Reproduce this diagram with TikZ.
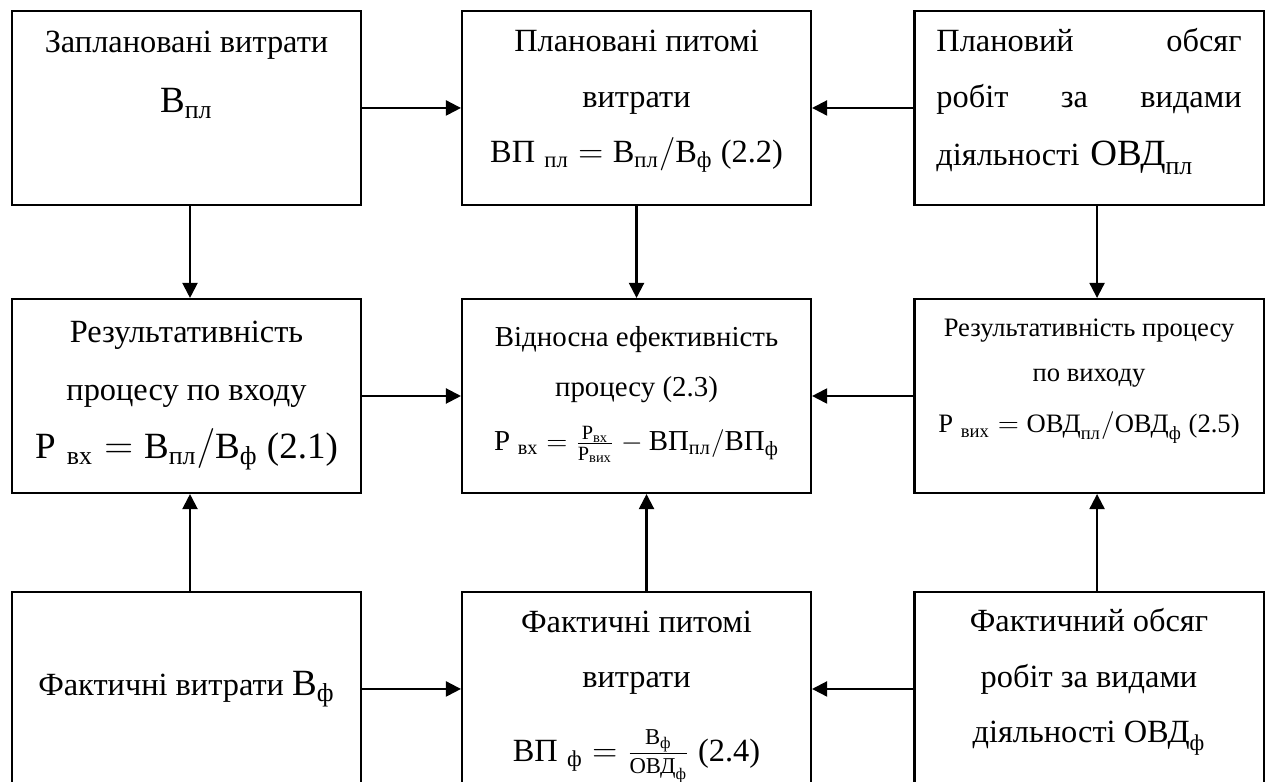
\documentclass[tikz,border=0pt]{standalone}
\usepackage{amsmath}
\usepackage{fontspec}
\setmainfont{Liberation Serif}
\usetikzlibrary{arrows.meta}

\begin{document}
\begin{tikzpicture}
    % Box and arrow styles
    \tikzset{
        blk/.style={draw, line width=0.9pt, minimum width=5.305cm, minimum height=2.949cm,
            inner sep=0pt, align=center, font=\fontsize{14}{24}\selectfont},
        topblk/.style={blk, text depth=0pt, text height=#1},
        arr/.style={line width=0.9pt, -{Triangle[length=6.5pt, width=6.5pt]}}
    }
    \useasboundingbox (0,0) rectangle (19.258,11.886);

    % Top row: planned values
    \node[topblk=4.1pt] (zplan) at (2.835,10.245) {Заплановані витрати\\[2pt]
        {\fontsize{16}{24}\selectfont$\text{В}_{\text{пл}}$}};
    \node[topblk=47.3pt] (vpplan) at (9.675,10.245) {Плановані питомі\\ витрати\\
        $\text{ВП}\;{}_{\text{пл}} = \text{В}_{\text{пл}}/\text{В}_{\text{ф}}$ (2.2)};
    \node[blk, text height=17.7pt, text depth=66.2pt, text width=132pt, align=left] (ovdplan) at (16.553,10.245)
        {Плановий \hfill обсяг\\ робіт \hfill за \hfill видами\\[1pt]
        діяльності {\fontsize{16}{24}\selectfont$\text{ОВД}_{\text{пл}}$}};

    % Middle row: results
    \node[topblk=54pt] (rvh) at (2.835,5.867) {Результативність\\[1pt] процесу по входу\\[1pt]
        {\fontsize{16}{24}\selectfont$\text{Р}\;{}_{\text{вх}} = \text{В}_{\text{пл}}/\text{В}_{\text{ф}}$ (2.1)}};
    \node[topblk=47.3pt, font=\fontsize{12.5}{21.5}\selectfont] (veff) at (9.675,5.867)
        {Відносна ефективність\\ процесу (2.3)\\[2pt]
        $\text{Р}\;{}_{\text{вх}} = \frac{\text{Р}_{\text{вх}}}{\text{Р}_{\text{вих}}} - \text{ВП}_{\text{пл}}/\text{ВП}_{\text{ф}}$};
    \node[topblk=32pt, font=\fontsize{11.5}{19.4}\selectfont] (rvyh) at (16.553,5.867)
        {Результативність процесу\\ по виходу\\[3pt]
        $\text{Р}\;{}_{\text{вих}} = \text{ОВД}_{\text{пл}}/\text{ОВД}_{\text{ф}}$ (2.5)};

    % Bottom row: actual values
    \node[blk] (fakt) at (2.835,1.414) {Фактичні витрати {\fontsize{16}{24}\selectfont$\text{В}_{\text{ф}}$}};
    \node[topblk=63.1pt] (vpfakt) at (9.675,1.414) {Фактичні питомі\\ витрати\\[8pt]
        $\text{ВП}\;{}_{\text{ф}} = \frac{\text{В}_{\text{ф}}}{\text{ОВД}_{\text{ф}}}$ (2.4)};
    \node[topblk=46.5pt] (ovdfakt) at (16.553,1.414) {Фактичний обсяг\\ робіт за видами\\
        діяльності $\text{ОВД}_{\text{ф}}$};

    % Arrows into the centre column
    \draw[arr] (zplan) -- (vpplan);
    \draw[arr] (ovdplan) -- (vpplan);
    \draw[arr] (rvh) -- (veff);
    \draw[arr] (rvyh) -- (veff);
    \draw[arr] (fakt) -- (vpfakt);
    \draw[arr] (ovdfakt) -- (vpfakt);

    % Arrows into the middle row
    \draw[arr] ([xshift=0.053cm]zplan.south) -- ([xshift=0.053cm]rvh.north);
    \draw[arr] (vpplan) -- (veff);
    \draw[arr] ([xshift=0.122cm]ovdplan.south) -- ([xshift=0.122cm]rvyh.north);
    \draw[arr] ([xshift=0.053cm]fakt.north) -- ([xshift=0.053cm]rvh.south);
    \draw[arr] ([xshift=0.152cm]vpfakt.north) -- ([xshift=0.152cm]veff.south);
    \draw[arr] ([xshift=0.122cm]ovdfakt.north) -- ([xshift=0.122cm]rvyh.south);
\end{tikzpicture}
\end{document}
